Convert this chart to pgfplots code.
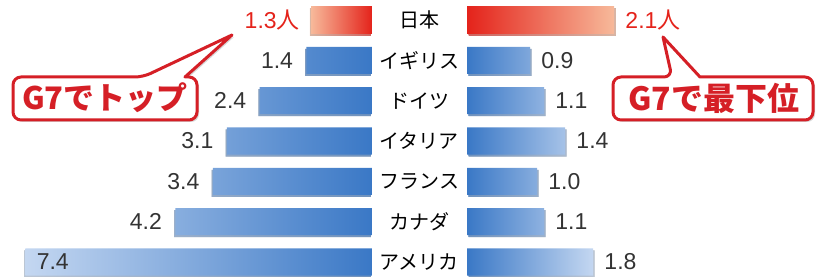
\documentclass[border=0pt]{standalone}
\usepackage{pgfplots}
\pgfplotsset{compat=1.18}
\usepackage{pgfplotstable}
\usepackage{fontspec}
\setmainfont{Liberation Sans}
\newfontfamily\cjk{Noto Sans CJK JP}
\usetikzlibrary{shadows}
\definecolor{bdark}{HTML}{3A78C6}
\definecolor{blight}{HTML}{C4D7F1}
\definecolor{rdark}{HTML}{E4231B}
\definecolor{rlight}{HTML}{F7B99A}
\definecolor{callred}{HTML}{D51F26}
\definecolor{txt}{HTML}{333333}

\pgfplotstableread{
row val lab
1 1.4 1.4
2 2.4 2.4
3 3.1 3.1
4 3.4 3.4
5 4.2 4.2
6 7.4 7.4
}\leftblue
\pgfplotstableread{
row val lab
0 1.3 1.3
}\leftjp
\pgfplotstableread{
row val lab
1 0.9 0.9
2 1.1 1.1
3 1.4 1.4
4 1.0 1.0
5 1.1 1.1
6 1.8 1.8
}\rightblue
\pgfplotstableread{
row val lab
0 2.1 2.1
}\rightjp
\pgfplotstableread{
row x name
0 0 日本
1 0 イギリス
2 0 ドイツ
3 0 イタリア
4 0 フランス
5 0 カナダ
6 0 アメリカ
}\names

\pgfplotsset{
  base/.style={scale only axis, height=138.5pt, ymin=-0.496, ymax=6.372,
    y dir=reverse, hide axis, clip=false, xmin=0},
  bars/.style={xbar, bar shift=0pt, bar width=0.67, draw=none},
  vlab/.style={draw=none, mark=none, nodes near coords, point meta=explicit symbolic,
    every node near coord/.append style={inner sep=0pt, text=txt,
      font=\fontsize{11.5}{13}\selectfont}},
}

\begin{document}
\begin{tikzpicture}
\path[use as bounding box] (0,0) rectangle (410pt,138.5pt);

% left axis
\begin{axis}[base, at={(1pt,0pt)}, anchor=south west, width=185pt,
  xmax=7.9, x dir=reverse]
\addplot[bars, left color=blight, right color=bdark,
  drop shadow={shadow xshift=-0.6pt, shadow yshift=-1pt, fill=black!55, opacity=0.55}]
  table[x=val, y=row] {\leftblue};
\addplot[bars, left color=rlight, right color=rdark,
  drop shadow={shadow xshift=-0.6pt, shadow yshift=-1pt, fill=black!55, opacity=0.55}]
  table[x=val, y=row] {\leftjp};
\addplot[vlab, every node near coord/.append style={anchor=east, xshift=-6.5pt}]
  table[x=val, y=row, meta=lab] {
row val lab
1 1.4 1.4
2 2.4 2.4
3 3.1 3.1
4 3.4 3.4
5 4.2 4.2
};
\addplot[vlab, every node near coord/.append style={anchor=west, xshift=5.5pt}]
  table[x=val, y=row, meta=lab] {
row val lab
6 7.4 7.4
};
\addplot[vlab, nodes near coords={\pgfplotspointmeta{\cjk 人}},
  every node near coord/.append style={anchor=east, xshift=-5.5pt, text=rdark}]
  table[x=val, y=row, meta=lab] {\leftjp};
\addplot[draw=none, mark=none, nodes near coords={\cjk\pgfplotspointmeta},
  point meta=explicit symbolic,
  every node near coord/.append style={anchor=center, xshift=23.6pt, inner sep=0pt,
    text=black, font=\fontsize{10}{12}\selectfont}]
  table[x=x, y=row, meta=name] {\names};
\end{axis}

% right axis
\begin{axis}[base, at={(233.5pt,0pt)}, anchor=south west, width=176.5pt,
  xmax=5.04]
\addplot[bars, left color=bdark, right color=blight,
  drop shadow={shadow xshift=0.8pt, shadow yshift=-1pt, fill=black!55, opacity=0.55}]
  table[x=val, y=row] {\rightblue};
\addplot[bars, left color=rdark, right color=rlight,
  drop shadow={shadow xshift=0.8pt, shadow yshift=-1pt, fill=black!55, opacity=0.55}]
  table[x=val, y=row] {\rightjp};
\addplot[vlab, every node near coord/.append style={anchor=west, xshift=5.5pt}]
  table[x=val, y=row, meta=lab] {\rightblue};
\addplot[vlab, nodes near coords={\pgfplotspointmeta{\cjk 人}},
  every node near coord/.append style={anchor=west, xshift=5.5pt, text=rdark}]
  table[x=val, y=row, meta=lab] {\rightjp};
\end{axis}

% callouts
\begin{scope}[x=0.5pt, y=-0.5pt, shift={(0,138.5pt)}]
\draw[callred, line width=1.5pt, fill=white, line join=round,
  drop shadow={shadow xshift=1pt, shadow yshift=-1pt, fill=black!40, opacity=0.4},
  rounded corners=4pt]
  (13,98) -- (13,77) -- (143,77) [sharp corners] -- (232,35) -- (185,77)
  [rounded corners=4pt] -- (197,77) -- (197,120) -- (13,120) -- cycle;
\node[text=callred, font=\cjk\bfseries\fontsize{15.5}{18}\selectfont] at (105,98) {G7でトップ};
\draw[callred, line width=1.5pt, fill=white, line join=round,
  drop shadow={shadow xshift=1pt, shadow yshift=-1pt, fill=black!40, opacity=0.4},
  rounded corners=4pt]
  (613,98) -- (613,77) -- (672,77) [sharp corners] -- (663,37) -- (700,77)
  [rounded corners=4pt] -- (813,77) -- (813,120) -- (613,120) -- cycle;
\node[text=callred, font=\cjk\bfseries\fontsize{16}{18}\selectfont] at (714,98) {G7で最下位};
\end{scope}
\end{tikzpicture}
\end{document}
